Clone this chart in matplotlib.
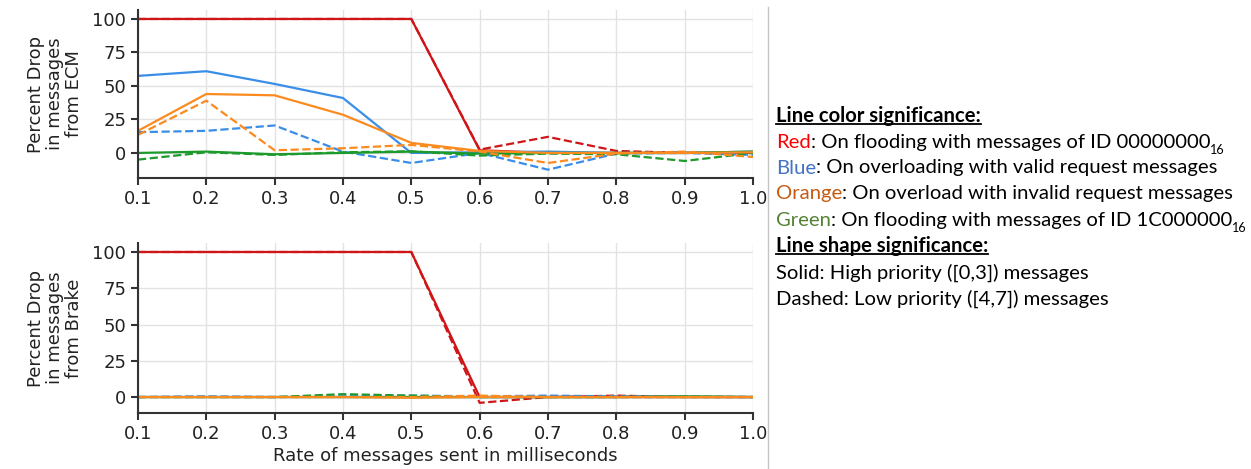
import matplotlib.pyplot as plt
from matplotlib.lines import Line2D

# Datos
tasa = [0.1, 0.2, 0.3, 0.4, 0.5, 0.6, 0.7, 0.8, 0.9, 1.0]

# ECM (arriba)
ecm_rojo_alta = [100, 100, 100, 100, 100, 2, 0, 0, 0, 0]
ecm_rojo_baja = [100, 100, 100, 100, 100, 2.5, 12, 1.5, 0, 0]
ecm_azul_alta = [57.5, 61, 51.5, 41, 0, 0.5, 1, 0, 0, 1]
ecm_azul_baja = [15.5, 16.5, 20.5, 1, -7.5, 0, -12.5, -0.5, 0, -1.5]
ecm_verde_alta = [0, 1, -1, 0, 1, -0.5, 0, 0, 0, 1]
ecm_verde_baja = [-5, 0.5, -1.5, 0.5, 1.2, -2, -0.5, -1, -6, 0]
ecm_naranja_alta = [16.5, 44, 43, 28.5, 7.5, 1.5, 0, 0, 0, 0.5]
ecm_naranja_baja = [13.5, 39, 2, 3.5, 6, 1, -7.5, -0.5, 1, -3]

# Brake (abajo)
frn_rojo_alta = [100, 100, 100, 100, 100, 0, 0, 0, 0, 0]
frn_rojo_baja = [100, 100, 100, 100, 100, -4, 0, 1, 0, 0]
frn_azul_alta = [0, 0, 0, 0, 0, 0, 0, 0, 0, 0]
frn_azul_baja = [0, 0.5, 0, 0.5, 1, 0.5, 1, 0.5, 0.5, 0]
frn_verde_alta = [0, 0, 0, 0, 0, 0, 0, 0, 0.5, 0]
frn_verde_baja = [0, 0, 0, 2, 1, 0, 0, 0, 0, 0]
frn_naranja_alta = [0, 0, 0, 0, -0.5, 0, 0, 0, 0, 0]
frn_naranja_baja = [0, 0, 0, 0, 0, 1, 0, 0, 0, 0]

ticks_x = [0.1, 0.2, 0.3, 0.4, 0.5, 0.6, 0.7, 0.8, 0.9, 1.0]
ticks_y = [0, 25, 50, 75, 100]

ROJO = '#cf1518'
AZUL = '#3a8ee8'
VERDE = '#1d9a2c'
NARANJA = '#fb8b1e'
EJE = '#333333'

fig = plt.figure(figsize=(12.51, 4.69), dpi=100)
ax1 = fig.add_axes([0.1103, 0.6205, 0.4916, 0.3582])
ax2 = fig.add_axes([0.1103, 0.1194, 0.4916, 0.3625])


def dibujar(ax, series, ylim, etiqueta):
    for valores, color, estilo in series:
        ax.plot(tasa, valores, color=color, linestyle=estilo, lw=1.6)
    ax.set_xlim(0.1, 1.0)
    ax.set_ylim(*ylim)
    ax.set_xticks(ticks_x)
    ax.set_yticks(ticks_y)
    ax.grid(True, color='#e3e3e3', lw=1)
    ax.set_axisbelow(True)
    for s in ['top', 'right']:
        ax.spines[s].set_visible(False)
    for s in ['left', 'bottom']:
        ax.spines[s].set_color(EJE)
        ax.spines[s].set_linewidth(1.5)
    ax.tick_params(colors='#222222', labelsize=13, length=5, width=1.5)
    ax.tick_params(axis='both', color=EJE)
    ax.set_ylabel(etiqueta, fontsize=13, linespacing=1.05, color='#222222')


dibujar(ax1, [
    (ecm_rojo_alta, ROJO, '-'), (ecm_rojo_baja, ROJO, '--'),
    (ecm_azul_alta, AZUL, '-'), (ecm_azul_baja, AZUL, '--'),
    (ecm_verde_alta, VERDE, '-'), (ecm_verde_baja, VERDE, '--'),
    (ecm_naranja_alta, NARANJA, '-'), (ecm_naranja_baja, NARANJA, '--'),
], (-18.7, 106.7), 'Percent Drop\nin messages\nfrom ECM')

dibujar(ax2, [
    (frn_rojo_alta, ROJO, '-'), (frn_rojo_baja, ROJO, '--'),
    (frn_azul_alta, AZUL, '-'), (frn_azul_baja, AZUL, '--'),
    (frn_verde_alta, VERDE, '-'), (frn_verde_baja, VERDE, '--'),
    (frn_naranja_alta, NARANJA, '-'), (frn_naranja_baja, NARANJA, '--'),
], (-11.0, 106.2), 'Percent Drop\nin messages\nfrom Brake')
ax2.set_xlabel('Rate of messages sent in milliseconds', fontsize=13, color='#222222', labelpad=3)

ax1.yaxis.set_label_coords(-0.09, 0.5)
ax2.yaxis.set_label_coords(-0.09, 0.5)

# Linea divisoria
fig.add_artist(Line2D([768 / 1251, 768 / 1251], [0, 1 - 7 / 469], color='#c4c4c4', lw=1))

# Texto explicativo de la derecha
FUENTE = 'Lato'
TAM = 14.6
lineas = [
    [('Line color significance:', 'black', 'bold')],
    [('Red', '#ff0000', 'normal'), (': On flooding with messages of ID 00000000', 'black', 'normal'), ('16', 'black', 'sub')],
    [('Blue', '#4472c4', 'normal'), (': On overloading with valid request messages', 'black', 'normal')],
    [('Orange', '#c55a11', 'normal'), (': On overload with invalid request messages', 'black', 'normal')],
    [('Green', '#548235', 'normal'), (': On flooding with messages of ID 1C000000', 'black', 'normal'), ('16', 'black', 'sub')],
    [('Line shape significance:', 'black', 'bold')],
    [('Solid: High priority ([0,3]) messages', 'black', 'normal')],
    [('Dashed: Low priority ([4,7]) messages', 'black', 'normal')],
]
centros_y = [116, 142, 168, 194, 220, 246, 273, 299]

subrayar = []
for partes, cy in zip(lineas, centros_y):
    anterior = None
    for texto, color, tipo in partes:
        peso = 'bold' if tipo == 'bold' else 'normal'
        if anterior is None:
            t = fig.text(776 / 1251, 1 - cy / 469, texto, color=color, fontsize=TAM,
                         family=FUENTE, weight=peso, ha='left', va='center')
        else:
            # cada trozo va pegado al borde derecho del anterior
            tam = TAM * 0.62 if tipo == 'sub' else TAM
            yrel = 0.02 if tipo == 'sub' else 0.5
            t = fig.add_artist(plt.Annotation(texto, xy=(1, yrel), xycoords=anterior,
                                              ha='left', va='center', color=color,
                                              fontsize=tam, family=FUENTE, weight=peso))
        if tipo == 'bold':
            subrayar.append(t)
        anterior = t

# subrayado de los titulos
fig.canvas.draw()
r = fig.canvas.get_renderer()
for t in subrayar:
    bb = t.get_window_extent(r).transformed(fig.transFigure.inverted())
    yl = bb.y0 + 0.004
    fig.add_artist(Line2D([bb.x0, bb.x1], [yl, yl], color='black', lw=1.3))

fig.savefig('out.png', dpi=100)
